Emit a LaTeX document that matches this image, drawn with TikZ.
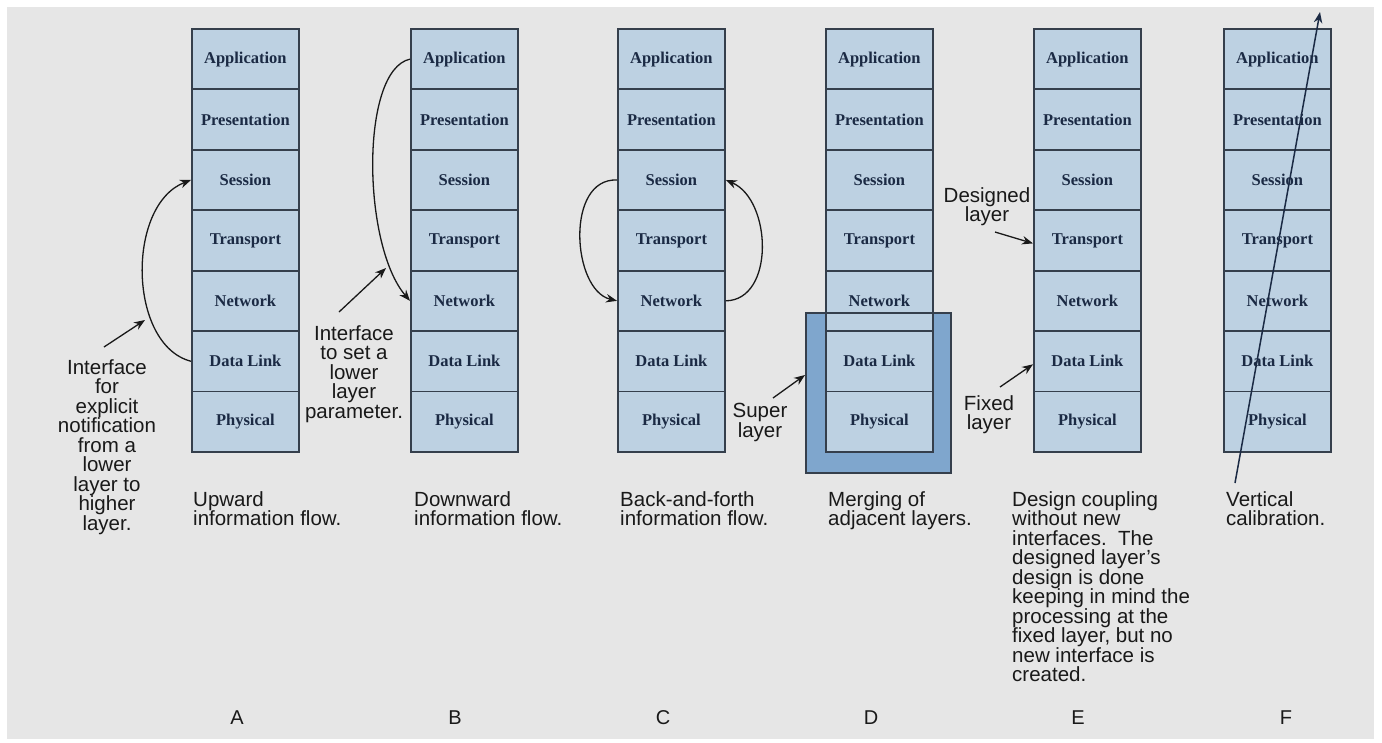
\documentclass[tikz,border=0pt]{standalone}
\usepackage{fontspec}
\setmainfont{Liberation Sans}
\newfontfamily\layerfont{Liberation Serif}
\usepackage{tikz}
\usetikzlibrary{positioning,arrows.meta}
\definecolor{panelgray}{HTML}{E6E6E6}
\definecolor{layerblue}{HTML}{BDD1E2}
\definecolor{superblue}{HTML}{7FA6CD}
\definecolor{stackline}{HTML}{353F4C}
\definecolor{navytext}{HTML}{1B2A44}
\tikzset{%
  osi layer/.style={
    rectangle,
    draw=stackline,
    fill=layerblue,
    line width=1.8pt,
    minimum width=107pt,
    minimum height=60.43pt,
    inner sep=0pt,
    text=navytext,
    font=\layerfont\bfseries\fontsize{16.5}{17}\selectfont
  },
  note/.style={
    align=center,
    inner sep=0pt,
    text=black!90,
    font=\fontsize{20.5}{19.5}\selectfont
  },
  caption/.style={
    note,
    align=left,
    anchor=north west
  },
  panel tag/.style={
    inner sep=0pt,
    text=black!90,
    font=\fontsize{20}{20}\selectfont
  },
  flow/.style={
    line width=1.3pt,
    black!90
  },
}

\begin{document}
\begin{tikzpicture}[x=1pt, y=-1pt, > = {Stealth[length=11pt,width=8.5pt]}]
\useasboundingbox (0,0) rectangle (1382,742);
\fill[white] (0,0) rectangle (1382,742);
\fill[panelgray] (7,7) rectangle (1374,739);

% merged super layer behind stack D
\node[fill=superblue, minimum width=145pt, minimum height=160pt, inner sep=0pt] (merged) at (878.5,393) {};

    \foreach \s/\x in {A/191,B/410,C/617,D/825,E/1033,F/1223}
        \foreach \n/\lname in {1/Application,2/Presentation,3/Session,4/Transport,5/Network,6/Data Link,7/Physical}
            \node[osi layer, anchor=north west] (\s_\n) at (\x,{28+60.43*(\n-1)}) {\lname};

\draw[draw=stackline, line width=2pt] (merged.north west) rectangle (merged.south east);

% A
   \draw[flow, ->] (A_6.west) .. controls (128,345) and (126,205) .. (A_3.west);
   \coordinate (tipA) at (145,320);
   \node[note, anchor=north] (noteA) at (107,359) {Interface\\for\\explicit\\notification\\from a\\lower\\layer to\\higher\\layer.};
   \draw[flow, ->] ([xshift=-3pt,yshift=12pt]noteA.north) -- (tipA);
% B
   \draw[flow, ->] (B_1.west) .. controls (360,70) and (362,245) .. (B_5.west);
   \coordinate (tipB) at (386,268);
   \node[note, anchor=north] (noteB) at (354,325) {Interface\\to set a\\lower\\layer\\parameter.};
   \draw[flow, ->] ([xshift=-15pt,yshift=13pt]noteB.north) -- (tipB);
% C
   \draw[flow, ->] (C_3.west) .. controls (565,178) and (572,290) .. (C_5.west);
   \draw[flow, ->] (C_5.east) .. controls (775,300) and (772,200) .. (C_3.east);
% D
   \coordinate (tipD) at (805,375);
   \node[note, anchor=north] (superlbl) at (760,403) {Super\\layer};
   \draw[flow, ->] ([xshift=13pt,yshift=5pt]superlbl.north) -- (tipD);
% E
   \node[note, anchor=north] (designed) at (987,187) {Designed\\layer};
   \draw[flow, ->] ([xshift=8pt,yshift=-6pt]designed.south) -- ([yshift=-3pt]E_4.west);
   \node[note, anchor=north] (fixed) at (989,395) {Fixed\\layer};
   \draw[flow, ->] ([xshift=11pt,yshift=8pt]fixed.north) -- ([yshift=-3pt]E_6.west);
% F
   \coordinate (calFoot) at (1235,483);
   \coordinate (calHead) at (1320,12);
   \draw[line width=1.5pt, navytext, ->] (calFoot) -- (calHead);

% captions
   \node[caption] (capA) at (193,491) {Upward\\information flow.};
   \node[caption] (capB) at (414,491) {Downward\\information flow.};
   \node[caption] (capC) at (620,491) {Back-and-forth\\information flow.};
   \node[caption] (capD) at (828,491) {Merging of\\adjacent layers.};
   \node[caption] (capE) at (1012,491) {Design coupling\\without new\\interfaces.\ \ The\\designed layer’s\\design is done\\keeping in mind the\\processing at the\\fixed layer, but no\\new interface is\\created.};
   \node[caption] (capF) at (1226,491) {Vertical\\calibration.};

    \foreach \s/\x in {A/237,B/455,C/663,D/871,E/1078,F/1286}
        \node[panel tag] (tag\s) at (\x,718) {\s};
\end{tikzpicture}
\end{document}
